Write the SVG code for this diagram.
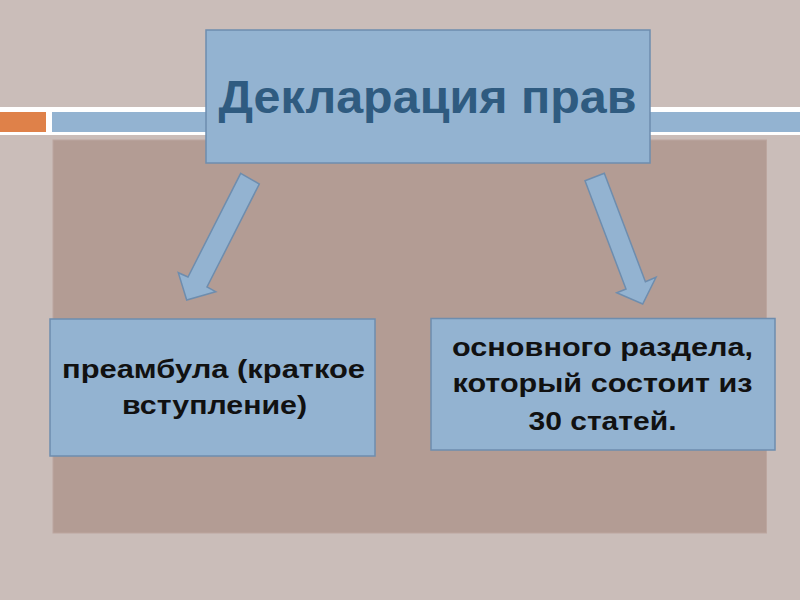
<svg xmlns="http://www.w3.org/2000/svg" width="800" height="600" viewBox="0 0 800 600">
<style>
.box{fill:#93B3D1;stroke:#6E8DAE;stroke-width:1.5}
.arrow{fill:#93B3D1;stroke:#6E8DAE;stroke-width:1.5;stroke-linejoin:miter}
.t{font-family:"Liberation Sans",Arial,sans-serif;font-weight:bold;text-anchor:middle}
.body{font-size:26px;fill:#111}
.title{font-size:46px;fill:#2F5B80}
</style>
<rect x="0" y="0" width="800" height="600" fill="#CABDB9"/>
<rect x="0" y="107" width="800" height="28" fill="#FFFFFF"/>
<rect x="0" y="112" width="46" height="20" fill="#DF8149"/>
<rect x="52" y="112" width="748" height="20" fill="#93B3D1"/>
<rect x="53" y="140" width="713.5" height="393" fill="#B39C94" stroke="#BCA69F" stroke-width="1"/>
<g id="connectors">
<polygon class="arrow" points="240.7,173.3 259.3,184 207,287 215.7,291.7 186.7,300 178.3,272.7 188,277"/>
<polygon class="arrow" points="585,180.7 604.3,173.3 645.4,281.7 656,277.3 642.7,304 616.7,292.7 626,289"/>
</g>
<g id="title">
<rect class="box" x="206" y="30" width="444" height="133"/>
<text class="t title" x="427.5" y="113" textLength="418" lengthAdjust="spacingAndGlyphs">Декларация прав</text>
</g>
<g id="preamble">
<rect class="box" x="50" y="319" width="325" height="137"/>
<text class="t body" x="213.5" y="378" textLength="303" lengthAdjust="spacingAndGlyphs">преамбула (краткое</text>
<text class="t body" x="214.5" y="414" textLength="185" lengthAdjust="spacingAndGlyphs">вступление)</text>
</g>
<g id="main">
<rect class="box" x="431" y="318.5" width="344" height="131.5"/>
<text class="t body" x="602.5" y="356" textLength="301" lengthAdjust="spacingAndGlyphs">основного раздела,</text>
<text class="t body" x="602.5" y="392" textLength="300" lengthAdjust="spacingAndGlyphs">который состоит из</text>
<text class="t body" x="602.5" y="430" textLength="148" lengthAdjust="spacingAndGlyphs">30 статей.</text>
</g>
</svg>
